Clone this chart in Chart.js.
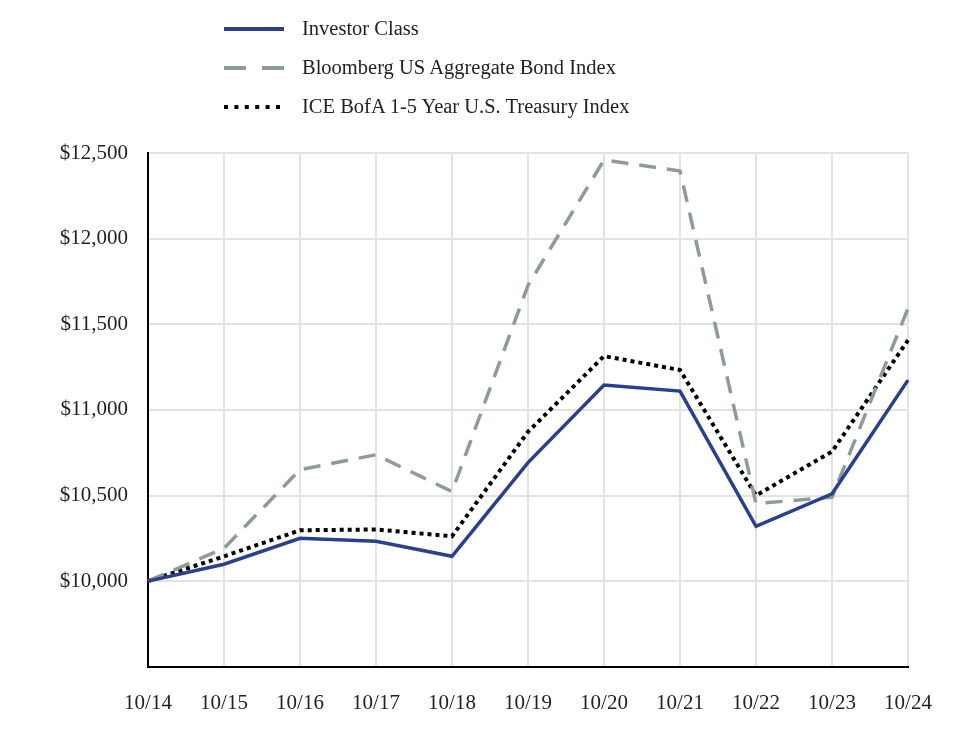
<!DOCTYPE html>
<html lang="en">
<head>
<meta charset="UTF-8">
<title>Growth of $10,000</title>
<script src="https://cdn.jsdelivr.net/npm/chart.js"></script>
<style>
  html, body { margin: 0; padding: 0; background: #fff; }
  #wrap { position: relative; width: 964px; height: 740px; }
  #legend { position: absolute; left: 224px; top: 9px; font-family: "Liberation Serif", serif; font-size: 20.5px; color: #222; z-index: 2; }
  .item { display: flex; align-items: center; height: 39px; }
  .item svg { width: 60px; height: 10px; margin-right: 18px; }
  canvas { position: absolute; left: 0; top: 0; }
</style>
</head>
<body>
<div id="wrap">
  <div id="legend"></div>
  <canvas id="myChart" width="964" height="740"></canvas>
</div>
<script>
  // data
  var labels = ["10/14", "10/15", "10/16", "10/17", "10/18", "10/19", "10/20", "10/21", "10/22", "10/23", "10/24"];
  var seriesNames = ["Investor Class", "Bloomberg US Aggregate Bond Index", "ICE BofA 1-5 Year U.S. Treasury Index"];
  var investor = [10000, 10099, 10250, 10233, 10145, 10692, 11145, 11110, 10320, 10510, 11174];
  var bloomberg = [10000, 10192, 10651, 10738, 10523, 11727, 12459, 12395, 10453, 10490, 11593];
  var ice = [10000, 10145, 10297, 10302, 10262, 10872, 11314, 11233, 10500, 10756, 11407];

  var colors = ["#2b3f8c", "#8e9a9b", "#000000"];
  var dashes = [[], [17, 11], [4, 4]];
  var legendDashes = [[], [22, 16], [4, 6.4]];
  var widths = [3.5, 3.5, 4];

  // html legend
  var legend = document.getElementById("legend");
  seriesNames.forEach(function (name, i) {
    var dash = legendDashes[i].length ? ' stroke-dasharray="' + legendDashes[i].join(" ") + '"' : '';
    legend.innerHTML += '<div class="item"><svg viewBox="0 0 60 10"><line x1="0" y1="5" x2="60" y2="5" stroke="' +
      colors[i] + '" stroke-width="4"' + dash + '/></svg><span>' + name + '</span></div>';
  });

  var serif = "'Liberation Serif', serif";
  var ctx = document.getElementById("myChart");

  new Chart(ctx, {
    type: "line",
    data: {
      labels: labels,
      datasets: [investor, bloomberg, ice].map(function (d, i) {
        return {
          label: seriesNames[i],
          data: d,
          borderColor: colors[i],
          borderWidth: widths[i],
          borderDash: dashes[i],
          pointRadius: 0,
          tension: 0,
          fill: false
        };
      })
    },
    options: {
      responsive: false,
      animation: false,
      layout: { padding: { top: 153, right: 56, bottom: 0, left: 0 } },
      plugins: { legend: { display: false }, tooltip: { enabled: false } },
      scales: {
        x: {
          offset: false,
          grid: { color: "#e2e2e2", lineWidth: 2, drawTicks: false },
          border: { color: "#000", width: 2 },
          ticks: { color: "#222", font: { family: serif, size: 21 }, padding: 24, maxRotation: 0 }
        },
        y: {
          min: 9500,
          max: 12500,
          afterFit: function (s) { s.width = 148; },
          grid: { color: "#e2e2e2", lineWidth: 2, drawTicks: false },
          border: { color: "#000", width: 2 },
          ticks: {
            stepSize: 500,
            color: "#222",
            font: { family: serif, size: 21 },
            padding: 20,
            callback: function (v) { return v === 9500 ? "" : "$" + v.toLocaleString("en-US"); }
          }
        }
      }
    }
  });
</script>
</body>
</html>
